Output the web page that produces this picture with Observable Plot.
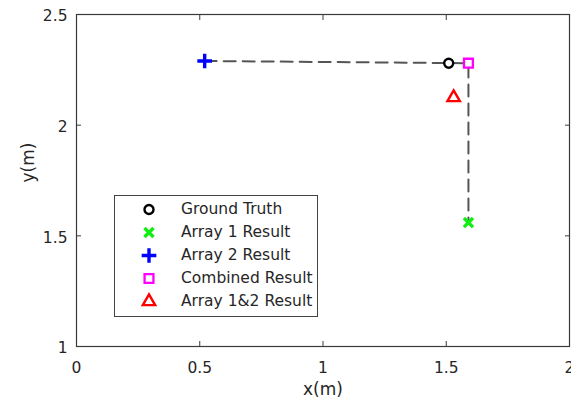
<!DOCTYPE html>
<html>
<head>
<meta charset="utf-8">
<script src="https://cdn.jsdelivr.net/npm/d3@7"></script>
<script src="https://cdn.jsdelivr.net/npm/@observablehq/plot@0.6"></script>
<style>
  html, body { margin: 0; padding: 0; background: white; }
  #wrap { position: relative; width: 571px; height: 403px; font-family: "DejaVu Sans", sans-serif; }
  #legend { position: absolute; left: 114px; top: 195px; width: 204px; height: 122px;
    border: 1.3px solid #444; background: white; box-sizing: border-box; padding-top: 2px; }
  .row { position: relative; height: 23px; }
  .row svg { position: absolute; left: 22px; top: 0; }
  .row span { position: absolute; left: 66px; top: 0; line-height: 23px; font-size: 15.5px; color: #262626; white-space: nowrap; }
</style>
</head>
<body>
<div id="wrap"></div>
<script>
// ---- data ----
const seriesNames = ["Ground Truth", "Array 1 Result", "Array 2 Result", "Combined Result", "Array 1&2 Result"];
const xValues = [1.51, 1.59, 0.52, 1.59, 1.53];
const yValues = [2.28, 1.56, 2.29, 2.28, 2.125];
const seriesColors = ["#000000", "#11ee11", "#0000ff", "#ff00ff", "#ff0000"];
const seriesSymbols = ["circle", "times", "plus", "square", "triangle"];
const dashedPathOrder = [2, 3, 1]; // Array 2 -> Combined -> Array 1
const xTicks = [0, 0.5, 1, 1.5, 2];
const xTickLabels = ["0", "0.5", "1", "1.5", "2"];
const yTicks = [1, 1.5, 2, 2.5];
const yTickLabels = ["1", "1.5", "2", "2.5"];
const axisLabels = {x: "x(m)", y: "y(m)"};

// ---- styling ----
const symbolR = {circle: 4.5, times: 4.2, plus: 4.8, square: 5.0, triangle: 4.6};
const symbolW = {circle: 2.4, times: 3.4, plus: 3.4, square: 2.3, triangle: 2.4};
const axisColor = "#3a3a3a";
const textColor = "#262626";

const idx = d3.range(seriesNames.length);

const plot = Plot.plot({
  width: 571,
  height: 403,
  marginLeft: 76,
  marginRight: 2,
  marginTop: 14,
  marginBottom: 57,
  x: {domain: [0, 2]},
  y: {domain: [1, 2.5]},
  style: {fontFamily: "DejaVu Sans, sans-serif", fontSize: "15.5px", color: textColor, background: "white"},
  marks: [
    Plot.line(dashedPathOrder, {x: i => xValues[i], y: i => yValues[i], stroke: "#555", strokeWidth: 2, strokeDasharray: "12,7"}),
    ...idx.map(i => Plot.dot([i], {
      x: j => xValues[j], y: j => yValues[j],
      symbol: () => seriesSymbols[i],
      r: symbolR[seriesSymbols[i]],
      stroke: seriesColors[i],
      strokeWidth: symbolW[seriesSymbols[i]],
      fill: (seriesSymbols[i] === "circle" || seriesSymbols[i] === "square") ? "white" : "none"
    })),
    Plot.frame({stroke: axisColor, strokeWidth: 1.2}),
    // inward tick marks on all four sides
    Plot.axisX({anchor: "bottom", ticks: xTicks, tickSize: -5, tickFormat: () => "", label: null, stroke: axisColor}),
    Plot.axisX({anchor: "top", ticks: xTicks, tickSize: -5, tickFormat: () => "", label: null, stroke: axisColor}),
    Plot.axisY({anchor: "left", ticks: yTicks, tickSize: -5, tickFormat: () => "", label: null, stroke: axisColor}),
    Plot.axisY({anchor: "right", ticks: yTicks, tickSize: -5, tickFormat: () => "", label: null, stroke: axisColor}),
    // tick labels
    Plot.axisX({anchor: "bottom", ticks: xTicks, tickSize: 0, tickPadding: 15, tickFormat: (d, i) => xTickLabels[i], label: null, fill: textColor}),
    Plot.axisY({anchor: "left", ticks: yTicks, tickSize: 0, tickPadding: 9, dy: 2, tickFormat: (d, i) => yTickLabels[i], label: null, fill: textColor}),
    // axis titles
    Plot.text([axisLabels.x], {frameAnchor: "bottom", dy: 43, lineAnchor: "middle", fontSize: 17, fill: textColor}),
    Plot.text([axisLabels.y], {frameAnchor: "left", dx: -48, dy: 2, rotate: -90, lineAnchor: "middle", fontSize: 17, fill: textColor})
  ]
});

const wrap = document.getElementById("wrap");
wrap.appendChild(plot);

// ---- legend ----
const legend = document.createElement("div");
legend.id = "legend";
const symbolTypes = {circle: d3.symbolCircle, times: d3.symbolTimes, plus: d3.symbolPlus, square: d3.symbolSquare, triangle: d3.symbolTriangle};
idx.forEach(i => {
  const row = document.createElement("div");
  row.className = "row";
  const s = seriesSymbols[i];
  const r = symbolR[s];
  const path = d3.symbol(symbolTypes[s], Math.PI * r * r)();
  const fill = (s === "circle" || s === "square") ? "white" : "none";
  row.innerHTML = `<svg width="24" height="23" viewBox="-12 -11.5 24 23"><path d="${path}" fill="${fill}" stroke="${seriesColors[i]}" stroke-width="${symbolW[s]}"/></svg><span>${seriesNames[i].replace("&", "&amp;")}</span>`;
  legend.appendChild(row);
});
wrap.appendChild(legend);
</script>
</body>
</html>
